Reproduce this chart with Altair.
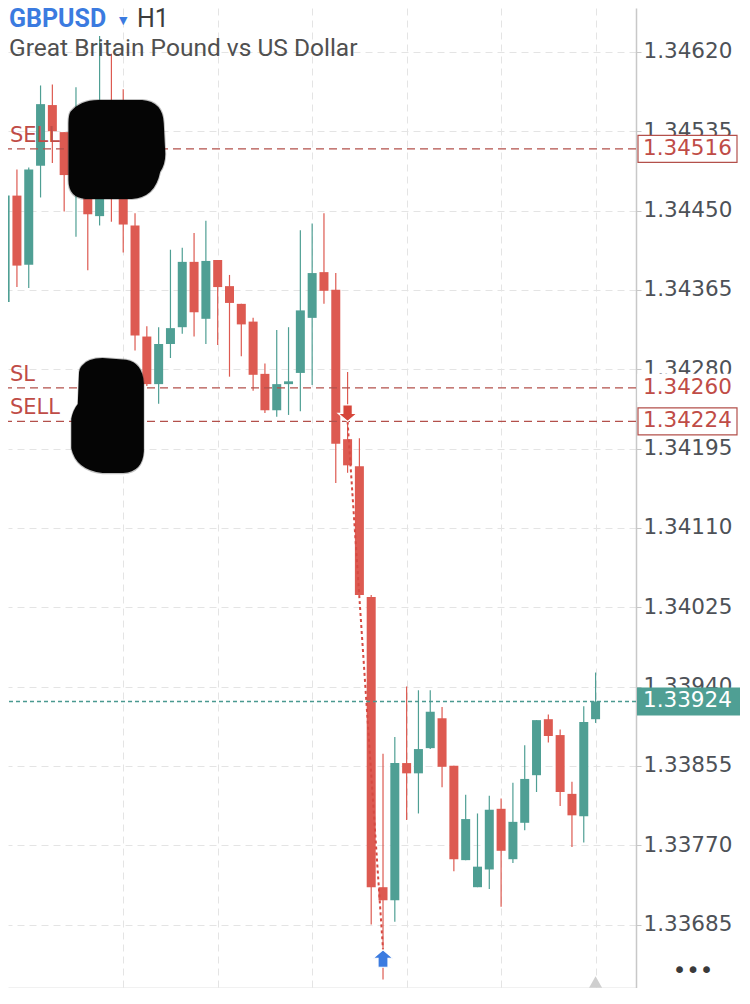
import altair as alt
import pandas as pd

# ---------------- data ----------------
candle_index = list(range(51))
open_ = [1.34352, 1.34466, 1.34392, 1.34498, 1.34563, 1.34534, 1.34472, 1.34526, 1.34444, 1.34515,
         1.34472, 1.34434, 1.34315, 1.34264, 1.34307, 1.34325, 1.34395, 1.34334, 1.34397, 1.34369,
         1.34350, 1.34331, 1.34275, 1.34236, 1.34264, 1.34276, 1.34335, 1.34384, 1.34365, 1.34205,
         1.34176, 1.34036, 1.33725, 1.33711, 1.33858, 1.33847, 1.33874, 1.33906, 1.33855, 1.33754,
         1.33725, 1.33744, 1.33809, 1.33755, 1.33794, 1.33845, 1.33905, 1.33888, 1.33825, 1.33801,
         1.33905]
high = [1.34472, 1.34494, 1.34496, 1.34584, 1.34585, 1.34534, 1.34582, 1.34558, 1.34637, 1.34618,
        1.34580, 1.34447, 1.34326, 1.34325, 1.34408, 1.34410, 1.34426, 1.34439, 1.34397, 1.34381,
        1.34350, 1.34335, 1.34286, 1.34322, 1.34325, 1.34429, 1.34436, 1.34447, 1.34383, 1.34277,
        1.34206, 1.34038, 1.33868, 1.33886, 1.33940, 1.33936, 1.33936, 1.33918, 1.33855, 1.33824,
        1.33804, 1.33823, 1.33820, 1.33837, 1.33877, 1.33904, 1.33910, 1.33894, 1.33838, 1.33919,
        1.33955]
low = [1.34349, 1.34368, 1.34367, 1.34464, 1.34501, 1.34449, 1.34422, 1.34386, 1.34434, 1.34438,
       1.34405, 1.34300, 1.34262, 1.34243, 1.34292, 1.34318, 1.34315, 1.34307, 1.34306, 1.34272,
       1.34294, 1.34257, 1.34233, 1.34229, 1.34231, 1.34235, 1.34263, 1.34350, 1.34158, 1.34169,
       1.34038, 1.33685, 1.33626, 1.33688, 1.33797, 1.33804, 1.33873, 1.33832, 1.33742, 1.33754,
       1.33725, 1.33723, 1.33704, 1.33751, 1.33786, 1.33827, 1.33880, 1.33812, 1.33768, 1.33773,
       1.33901]
close = [1.34466, 1.34391, 1.34494, 1.34564, 1.34535, 1.34488, 1.34526, 1.34446, 1.34515, 1.34472,
         1.34435, 1.34316, 1.34264, 1.34307, 1.34324, 1.34395, 1.34341, 1.34396, 1.34368, 1.34351,
         1.34328, 1.34274, 1.34236, 1.34264, 1.34267, 1.34343, 1.34383, 1.34364, 1.34200, 1.34177,
         1.34038, 1.33725, 1.33711, 1.33858, 1.33847, 1.33873, 1.33913, 1.33854, 1.33755, 1.33798,
         1.33747, 1.33808, 1.33764, 1.33795, 1.33841, 1.33904, 1.33887, 1.33827, 1.33802, 1.33902,
         1.33924]

y_ticks = [1.33685, 1.33770, 1.33855, 1.33940, 1.34025, 1.34110, 1.34195,
           1.34280, 1.34365, 1.34450, 1.34535, 1.34620]
x_grid = [10, 18, 26, 34, 42, 50]

order_prices = [1.34516, 1.34260, 1.34224]
order_labels = ["SELL", "SL", "SELL"]
order_boxed = [True, False, True]
current_price = [1.33924]

trade_index = [29, 32]
trade_price = [1.34224, 1.33658]

redaction_index = [9.42, 8.75]
redaction_price = [1.34516, 1.34230]

symbol_text = ["GBPUSD"]
marker_text = ["\u25BC"]
timeframe_text = ["H1"]
description_text = ["Great Britain Pound vs US Dollar"]
menu_text = ["\u2022\u2022\u2022"]

# ---------------- styles ----------------
TEAL = "#4f9f94"
RED = "#dd5a51"
ORDER = "#b3504b"
ORDER_TEXT = "#bf4c47"
GRID = "#e4e4e4"
AXIS = "#c8c8c8"
LABEL = "#4d5157"
BLUE = "#3b7be0"
W, H = 628, 980
X_DOMAIN = [0.667, 53.0]
Y_DOMAIN = [1.33617, 1.34667]

df = pd.DataFrame({"i": candle_index, "o": open_, "h": high, "l": low, "c": close})
df["dir"] = ["up" if c >= o else "down" for o, c in zip(open_, close)]

xs = alt.Scale(domain=X_DOMAIN, nice=False, zero=False)
ys = alt.Scale(domain=Y_DOMAIN, nice=False, zero=False)
color = alt.Color("dir:N", scale=alt.Scale(domain=["up", "down"], range=[TEAL, RED]), legend=None)

x_axis = alt.Axis(values=x_grid, grid=True, gridColor=GRID, gridDash=[7, 5], gridWidth=1,
                  labels=False, ticks=False, domain=True, domainColor=AXIS, domainWidth=1.5,
                  title=None)
y_axis = alt.Axis(orient="right", values=y_ticks, format=".5f", grid=True, gridColor=GRID,
                  gridDash=[7, 5], gridWidth=1, labelFont="DejaVu Sans", labelFontSize=21.5,
                  labelColor=LABEL, labelPadding=2, labelOverlap=False, labelFlush=False,
                  ticks=True, tickSize=5, tickColor=AXIS, domain=True, domainColor=AXIS,
                  domainWidth=1.5, title=None)

xi = alt.X("i:Q", scale=xs, axis=x_axis)
yo = alt.Y("p:Q", scale=ys, axis=y_axis)

wicks = alt.Chart(df).mark_rule(strokeWidth=1.2, clip=True).encode(
    x=xi, y=alt.Y("l:Q", scale=ys, axis=y_axis), y2="h:Q", color=color)
bodies = alt.Chart(df).mark_bar(size=9, clip=True).encode(
    x=xi, y=alt.Y("o:Q", scale=ys, axis=y_axis), y2="c:Q", color=color)

orders = pd.DataFrame({"p": order_prices, "lab": order_labels, "boxed": order_boxed})
order_rules = alt.Chart(orders).mark_rule(color=ORDER, strokeDash=[8, 5], strokeWidth=1.2).encode(y=yo)
order_left = alt.Chart(orders).mark_text(
    align="left", baseline="alphabetic", dy=-7, font="DejaVu Sans", fontSize=21, color=ORDER_TEXT
).encode(x=alt.value(2), y=yo, text="lab:N")

BOX = "M-1,-0.2727L1,-0.2727L1,0.2727L-1,0.2727Z"
order_boxes = alt.Chart(orders).mark_point(
    shape=BOX, size=9801, filled=True, fill="white", strokeWidth=1.2, opacity=1
).encode(
    x=alt.value(679.5), y=yo,
    stroke=alt.condition("datum.boxed", alt.value(ORDER), alt.value("white")),
)
order_right = alt.Chart(orders).mark_text(
    align="left", baseline="middle", font="DejaVu Sans", fontSize=21.5, color=ORDER_TEXT
).encode(x=alt.value(635), y=yo, text=alt.Text("p:Q", format=".5f"))

cur = pd.DataFrame({"p": current_price})
cur_rule = alt.Chart(cur).mark_rule(color="#4a9990", strokeDash=[4, 3], strokeWidth=1.6).encode(y=yo)
cur_box = alt.Chart(cur).mark_point(
    shape="M-1,-0.2718L1,-0.2718L1,0.2718L-1,0.2718Z", size=10609, filled=True,
    fill=TEAL, strokeWidth=0, opacity=1
).encode(x=alt.value(680.5), y=yo)
cur_text = alt.Chart(cur).mark_text(
    align="left", baseline="middle", font="DejaVu Sans", fontSize=21.5, color="white"
).encode(x=alt.value(635), y=yo, text=alt.Text("p:Q", format=".5f"))

trade = pd.DataFrame({"i": trade_index, "p": trade_price})
trade_line = alt.Chart(trade).mark_line(strokeDash=[3, 3], strokeWidth=2, color="#d64a42").encode(
    x=xi, y=yo)
DOWN = "M-0.5,-0.9L0.5,-0.9L0.5,0L1,0L0,0.85L-1,0L-0.5,0Z"
UP = "M-0.5,0.9L0.5,0.9L0.5,0L1,0L0,-0.85L-1,0L-0.5,0Z"
sell_arrow = alt.Chart(trade.iloc[[0]]).mark_point(
    shape=DOWN, size=361, filled=True, fill="#d6463a", stroke="white", strokeWidth=1.2,
    opacity=1, yOffset=-8
).encode(x=xi, y=yo)
buy_arrow = alt.Chart(trade.iloc[[1]]).mark_point(
    shape=UP, size=400, filled=True, fill=BLUE, stroke="white", strokeWidth=1.2,
    opacity=1, yOffset=8.5
).encode(x=xi, y=yo)

red_df = pd.DataFrame({"i": redaction_index, "p": redaction_price})
BLOB1 = ("M-0.89,-0.72Q-0.7,-0.95-0.35,-0.95L0.5,-0.95Q0.9,-0.92 0.92,-0.5L0.95,0.1"
         "Q0.95,0.3 0.85,0.45Q0.75,0.95 0.3,0.97L-0.6,0.97Q-0.93,0.95-0.93,0.6"
         "L-0.93,-0.5Q-0.93,-0.65-0.89,-0.72Z")
BLOB2 = ("M-0.45,-0.85Q-0.35,-0.98-0.1,-0.98L0.3,-0.95Q0.58,-0.9 0.6,-0.55L0.6,0.6"
         "Q0.58,0.95 0.25,0.97L-0.1,0.97Q-0.55,0.92-0.63,0.55L-0.63,0.05"
         "Q-0.6,-0.1-0.52,-0.2L-0.5,-0.7Q-0.5,-0.8-0.45,-0.85Z")
blobs = []
for k, (shape, sz) in enumerate([(BLOB1, 10609), (BLOB2, 13924)]):
    row = red_df.iloc[[k]]
    blobs.append(alt.Chart(row).mark_point(shape=shape, size=sz * 1.04, filled=True,
                                           fill="#333333", strokeWidth=0, opacity=0.3
                                           ).encode(x=xi, y=yo))
    blobs.append(alt.Chart(row).mark_point(shape=shape, size=sz, filled=True,
                                           fill="#050505", strokeWidth=0, opacity=1
                                           ).encode(x=xi, y=yo))


def label(txt, x, y, **kw):
    return alt.Chart(pd.DataFrame({"t": txt})).mark_text(align="left", baseline="alphabetic", **kw).encode(
        x=alt.value(x), y=alt.value(y), text="t:N")


hdr1 = label(symbol_text, 1, 19, font="Roboto", fontSize=25, fontWeight="bold", color=BLUE)
hdr2 = label(marker_text, 111, 16, font="DejaVu Sans", fontSize=11, color=BLUE)
hdr3 = label(timeframe_text, 129, 19, font="Roboto", fontSize=25, color="#3c3c3c")
hdr4 = label(description_text, 1, 48, font="Roboto", fontSize=24.5, color="#505050")
menu = alt.Chart(pd.DataFrame({"t": menu_text})).mark_text(
    align="center", baseline="middle", font="DejaVu Sans", fontSize=23, color="#3a3a3a"
).encode(x=alt.value(685), y=alt.value(963), text="t:N")

last = pd.DataFrame({"i": [candle_index[-1]]})
tri = alt.Chart(last).mark_point(shape="triangle-up", size=170, filled=True, fill="#cfcfcf",
                                 strokeWidth=0, opacity=1).encode(x=xi, y=alt.value(H - 6))

chart = alt.layer(
    wicks, bodies, order_rules, cur_rule, trade_line, order_left,
    order_boxes, order_right, cur_box, cur_text, sell_arrow, buy_arrow,
    *blobs, hdr1, hdr2, hdr3, hdr4, menu, tri
).properties(
    width=W, height=H,
    autosize=alt.AutoSizeParams(type="none"),
    padding={"left": 0, "top": 0, "right": 104, "bottom": 0},
    background="white",
).configure_view(stroke=None)

chart.save("out.html", embed_options={"renderer": "svg", "actions": False})
